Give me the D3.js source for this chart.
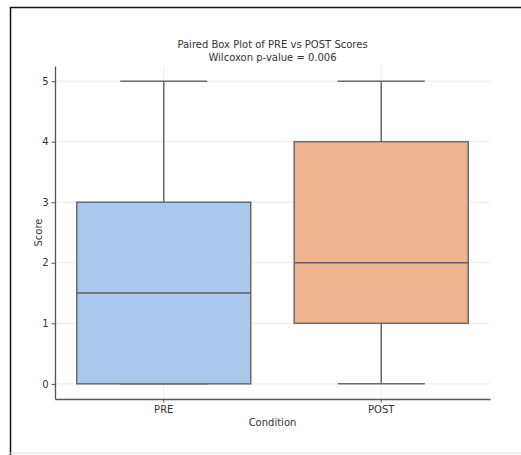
<!DOCTYPE html>
<html>
<head>
<meta charset="utf-8">
<script src="https://cdn.jsdelivr.net/npm/d3@7"></script>
<style>
  body { margin: 0; background: #fff; }
  svg { display: block; font-family: "DejaVu Sans", sans-serif; }
</style>
</head>
<body>
<svg id="chart"></svg>
<script>
// box plot summary values
const categories = ['PRE', 'POST'];
const whiskerLow = [0, 0];
const q1 = [0, 1];
const median = [1.5, 2];
const q3 = [3, 4];
const whiskerHigh = [5, 5];
const yTicks = [0, 1, 2, 3, 4, 5];
const fills = ['#aac8ec', '#eeb48f'];

const chartWidth = 521;
const chartHeight = 455;

const margin = {
  top: 66,
  right: 31,
  bottom: 56,
  left: 55
};

const plotWidth = chartWidth - margin.left - margin.right;
const plotHeight = chartHeight - margin.top - margin.bottom;

const svg = d3.select('#chart')
    .attr('width', chartWidth)
    .attr('height', chartHeight);

// screenshot frame
svg.append('line')
    .attr('x1', 10.5).attr('x2', chartWidth).attr('y1', 7.5).attr('y2', 7.5)
    .attr('stroke', '#111').attr('stroke-width', 1.5);
svg.append('line')
    .attr('x1', 10.5).attr('x2', 10.5).attr('y1', 7).attr('y2', chartHeight)
    .attr('stroke', '#111').attr('stroke-width', 1.5);
svg.append('line')
    .attr('x1', 10).attr('x2', chartWidth).attr('y1', 453).attr('y2', 453)
    .attr('stroke', '#ddd').attr('stroke-width', 1);

const g = svg.append('g')
    .attr('transform', `translate(${margin.left},${margin.top})`);

const x = d3.scaleBand()
    .domain(categories)
    .range([0, plotWidth])
    .padding(0);

const y = d3.scaleLinear()
    .domain([-0.25, 5.25])
    .range([plotHeight, 0]);

// grid
g.append('g')
  .selectAll('line')
  .data(yTicks)
  .join('line')
    .attr('x1', 0).attr('x2', plotWidth)
    .attr('y1', d => y(d)).attr('y2', d => y(d))
    .attr('stroke', '#e6e6e6').attr('stroke-width', 0.8);

g.append('g')
  .selectAll('line')
  .data(categories)
  .join('line')
    .attr('x1', d => x(d) + x.bandwidth() / 2).attr('x2', d => x(d) + x.bandwidth() / 2)
    .attr('y1', 0).attr('y2', plotHeight)
    .attr('stroke', '#e6e6e6').attr('stroke-width', 0.8);

const boxW = x.bandwidth() * 0.8;
const capW = boxW / 2;
const edge = '#6b6b6b';

const boxes = g.append('g')
  .selectAll('g')
  .data(categories)
  .join('g')
    .attr('transform', d => `translate(${x(d) + x.bandwidth() / 2},0)`);

// whiskers
boxes.append('line')
    .attr('x1', 0).attr('x2', 0)
    .attr('y1', (d, i) => y(whiskerHigh[i])).attr('y2', (d, i) => y(q3[i]))
    .attr('stroke', edge).attr('stroke-width', 1.5);
boxes.append('line')
    .attr('x1', 0).attr('x2', 0)
    .attr('y1', (d, i) => y(q1[i])).attr('y2', (d, i) => y(whiskerLow[i]))
    .attr('stroke', edge).attr('stroke-width', 1.5);
boxes.append('line')
    .attr('x1', -capW / 2).attr('x2', capW / 2)
    .attr('y1', (d, i) => y(whiskerHigh[i])).attr('y2', (d, i) => y(whiskerHigh[i]))
    .attr('stroke', edge).attr('stroke-width', 1.5);
boxes.append('line')
    .attr('x1', -capW / 2).attr('x2', capW / 2)
    .attr('y1', (d, i) => y(whiskerLow[i])).attr('y2', (d, i) => y(whiskerLow[i]))
    .attr('stroke', edge).attr('stroke-width', 1.5);

// box
boxes.append('rect')
    .attr('x', -boxW / 2)
    .attr('width', boxW)
    .attr('y', (d, i) => y(q3[i]))
    .attr('height', (d, i) => y(q1[i]) - y(q3[i]))
    .attr('fill', (d, i) => fills[i])
    .attr('stroke', edge).attr('stroke-width', 1.5);

// median
boxes.append('line')
    .attr('x1', -boxW / 2).attr('x2', boxW / 2)
    .attr('y1', (d, i) => y(median[i])).attr('y2', (d, i) => y(median[i]))
    .attr('stroke', '#5f5f5f').attr('stroke-width', 1.5);

// axes
const yAxis = g.append('g')
    .call(d3.axisLeft(y).tickValues(yTicks).tickFormat(d3.format('d'))
      .tickSize(3.5).tickSizeOuter(0).tickPadding(3));
const xAxis = g.append('g')
    .attr('transform', `translate(0,${plotHeight})`)
    .call(d3.axisBottom(x).tickSize(3.5).tickSizeOuter(0).tickPadding(3));

[yAxis, xAxis].forEach(a => {
  a.select('.domain').attr('stroke', '#555').attr('stroke-width', 1.3);
  a.selectAll('.tick line').attr('stroke', '#555').attr('stroke-width', 1);
  a.selectAll('.tick text')
      .attr('fill', '#333')
      .style('font-size', '10px')
      .style('font-family', '"DejaVu Sans", sans-serif');
});

// labels
svg.append('text')
    .attr('x', margin.left + plotWidth / 2)
    .attr('y', 48)
    .attr('text-anchor', 'middle')
    .attr('fill', '#333')
    .style('font-size', '10px')
    .text('Paired Box Plot of PRE vs POST Scores');
svg.append('text')
    .attr('x', margin.left + plotWidth / 2)
    .attr('y', 61)
    .attr('text-anchor', 'middle')
    .attr('fill', '#333')
    .style('font-size', '10px')
    .text('Wilcoxon p-value = 0.006');

svg.append('text')
    .attr('x', margin.left + plotWidth / 2)
    .attr('y', 426)
    .attr('text-anchor', 'middle')
    .attr('fill', '#333')
    .style('font-size', '10px')
    .text('Condition');

svg.append('text')
    .attr('transform', `translate(42,${margin.top + plotHeight / 2}) rotate(-90)`)
    .attr('text-anchor', 'middle')
    .attr('fill', '#333')
    .style('font-size', '10px')
    .text('Score');
</script>
</body>
</html>
